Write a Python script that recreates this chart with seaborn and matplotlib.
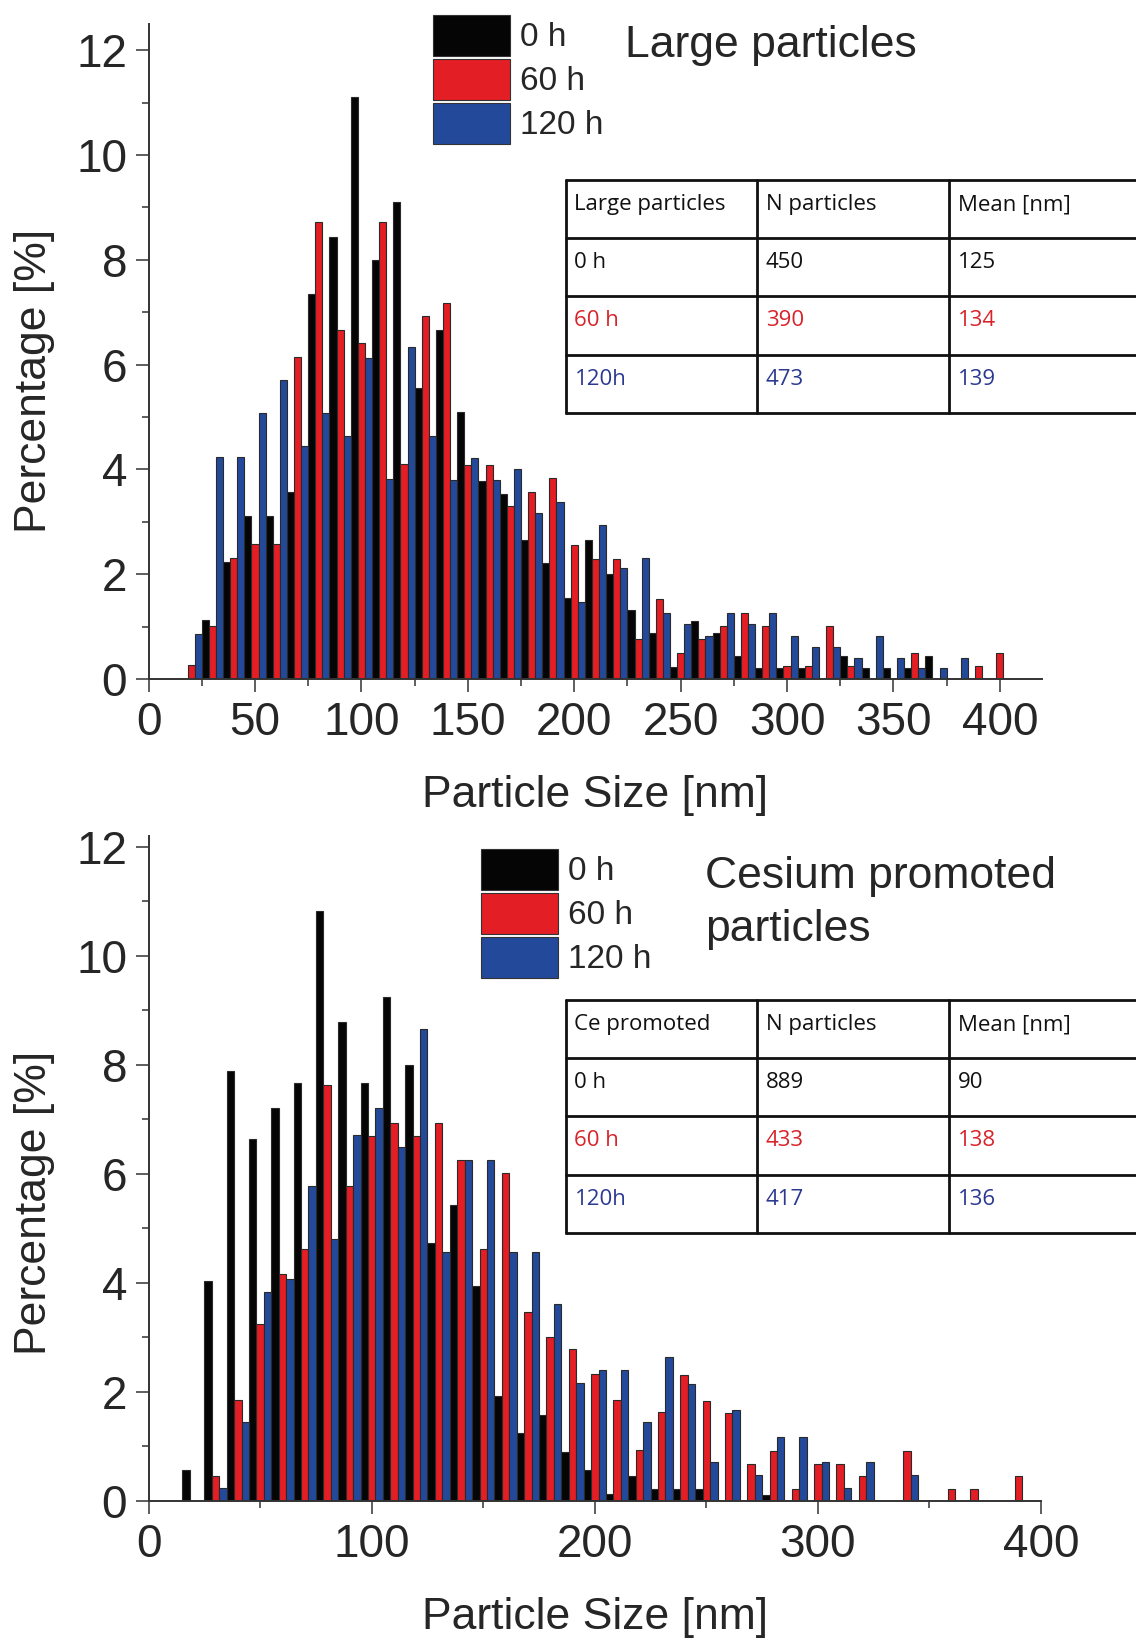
import matplotlib
matplotlib.use("Agg")
import matplotlib.pyplot as plt
import numpy as np
import pandas as pd
import seaborn as sns
from matplotlib.patches import Patch
from matplotlib.lines import Line2D
from matplotlib.ticker import MultipleLocator

# Histogram bin centres [nm]
bin_centres = list(range(20, 410, 10))
times = ["0 h", "60 h", "120 h"]
colors = ["#050505", "#e31e24", "#23499a"]
text_colors = ["#111111", "#d7242a", "#2b3990"]

# Large particles: share of particles per 10 nm bin [%]
large_0h = [0.00, 1.12, 2.23, 3.11, 3.11, 3.56, 7.34, 8.44, 11.11, 8.00,
            9.11, 5.56, 6.66, 5.09, 3.77, 3.54, 2.65, 2.21, 1.54, 2.65,
            2.00, 1.32, 0.88, 0.22, 1.11, 0.88, 0.43, 0.21, 0.21, 0.21,
            0.00, 0.43, 0.21, 0.21, 0.21, 0.43, 0.00, 0.00, 0.00]
large_60h = [0.26, 1.02, 2.30, 2.57, 2.57, 6.15, 8.72, 6.66, 6.42, 8.72,
             4.10, 6.92, 7.18, 4.08, 4.08, 3.31, 3.57, 3.83, 2.55, 2.29,
             2.29, 0.76, 1.52, 0.50, 0.76, 1.02, 1.26, 1.02, 0.25, 0.25,
             1.01, 0.25, 0.00, 0.00, 0.50, 0.00, 0.00, 0.25, 0.50]
large_120h = [0.85, 4.23, 4.23, 5.07, 5.70, 4.44, 5.07, 4.64, 6.13, 3.81,
              6.34, 4.64, 3.79, 4.21, 3.79, 4.00, 3.16, 3.37, 1.47, 2.94,
              2.11, 2.30, 1.26, 1.05, 0.83, 1.26, 1.05, 1.26, 0.83, 0.62,
              0.62, 0.41, 0.83, 0.41, 0.21, 0.21, 0.41, 0.00, 0.00]

# Cesium promoted particles [%]
cs_0h = [0.57, 4.04, 7.89, 6.64, 7.21, 7.66, 10.82, 8.79, 7.66, 9.24,
         8.00, 4.73, 5.42, 3.94, 1.92, 1.25, 1.58, 0.90, 0.56, 0.12,
         0.46, 0.22, 0.22, 0.22, 0.00, 0.00, 0.11, 0.00, 0.00, 0.00,
         0.00, 0.00, 0.00, 0.00, 0.00, 0.00, 0.00, 0.00, 0.00]
cs_60h = [0.00, 0.46, 1.86, 3.24, 4.16, 4.63, 7.63, 5.78, 6.70, 6.93,
          6.70, 6.93, 6.25, 4.63, 6.02, 3.47, 3.01, 2.78, 2.32, 1.86,
          0.93, 1.63, 2.31, 1.84, 1.61, 0.68, 0.92, 0.22, 0.68, 0.68,
          0.46, 0.00, 0.92, 0.00, 0.22, 0.22, 0.00, 0.46, 0.00]
cs_120h = [0.00, 0.23, 1.45, 3.84, 4.08, 5.77, 4.80, 6.72, 7.20, 6.49,
           8.65, 4.56, 6.25, 6.25, 4.56, 4.56, 3.61, 2.17, 2.41, 2.41,
           1.44, 2.64, 2.15, 0.71, 1.67, 0.47, 1.18, 1.18, 0.71, 0.23,
           0.71, 0.00, 0.47, 0.00, 0.00, 0.00, 0.00, 0.00, 0.00]

# Summary tables
large_header = ["Large particles", "N particles", "Mean [nm]"]
large_rows = [["0 h", "450", "125"], ["60 h", "390", "134"], ["120h", "473", "139"]]
cs_header = ["Ce promoted", "N particles", "Mean [nm]"]
cs_rows = [["0 h", "889", "90"], ["60 h", "433", "138"], ["120h", "417", "136"]]

sns.set_theme(style="ticks")
plt.rcParams["font.family"] = ["Liberation Sans", "DejaVu Sans"]

W, H = 1136, 1639
fig = plt.figure(figsize=(W / 100, H / 100), dpi=100)


def add_px_axes(left, right, bottom, top):
    return fig.add_axes([left / W, 1 - bottom / H, (right - left) / W, (bottom - top) / H])


def long_frame(series):
    parts = []
    for t, vals in zip(times, series):
        parts.append(pd.DataFrame({"size": bin_centres, "pct": vals, "time": t}))
    df = pd.concat(parts, ignore_index=True)
    return df[df["pct"] > 0]


def draw_hist(ax, series, xmax, ymax, xmajor, xminor):
    df = long_frame(series)
    sns.barplot(data=df, x="size", y="pct", hue="time", hue_order=times,
                palette=colors, native_scale=True, width=1.0, dodge=True,
                errorbar=None, saturation=1, edgecolor="#2a2a2a",
                linewidth=0.8, legend=False, ax=ax)
    ax.set_xlim(0, xmax)
    ax.set_ylim(0, ymax)
    ax.xaxis.set_major_locator(MultipleLocator(xmajor))
    ax.xaxis.set_minor_locator(MultipleLocator(xminor))
    ax.yaxis.set_major_locator(MultipleLocator(2))
    ax.yaxis.set_minor_locator(MultipleLocator(1))
    ax.set_xticks(np.arange(0, 401, xmajor))
    for s in ["top", "right"]:
        ax.spines[s].set_visible(False)
    for s in ["left", "bottom"]:
        ax.spines[s].set_linewidth(1.4)
        ax.spines[s].set_color("#333333")
    ax.tick_params(which="major", direction="out", length=9.5, width=1.1,
                   color="#333333", labelsize=33, pad=6)
    ax.tick_params(which="minor", direction="out", length=5, width=1.1,
                   color="#333333")
    ax.set_xlabel("Particle Size [nm]", fontsize=32, labelpad=22)
    ax.set_ylabel("Percentage [%]", fontsize=32)


def draw_table(x0, y0, header, rows):
    col_x = [x0, x0 + 191.5, x0 + 383.5, x0 + 575.5]
    row_h = 58.2
    row_y = [y0 + i * row_h for i in range(5)]
    for yy in row_y:
        fig.add_artist(Line2D([col_x[0] / W, col_x[-1] / W], [1 - yy / H, 1 - yy / H],
                              transform=fig.transFigure, color="#111111", lw=2.0))
    for xx in col_x:
        fig.add_artist(Line2D([xx / W, xx / W], [1 - row_y[0] / H, 1 - row_y[-1] / H],
                              transform=fig.transFigure, color="#111111", lw=2.0))
    all_rows = [header] + rows
    all_colors = [text_colors[0]] + text_colors
    for r, (cells, c) in enumerate(zip(all_rows, all_colors)):
        for k, txt in enumerate(cells):
            fig.text((col_x[k] + 9) / W, 1 - (row_y[r] + 30) / H, txt,
                     family=["Open Sans", "DejaVu Sans"], fontsize=16,
                     color=c, ha="left", va="baseline")


def draw_legend(x, y):
    handles = [Patch(facecolor=c, edgecolor="#333333", linewidth=0.8) for c in colors]
    fig.legend(handles, times, loc="upper left", bbox_to_anchor=(x / W, 1 - y / H),
               frameon=False, fontsize=24, handlelength=2.3, handleheight=1.5,
               labelspacing=0.1, handletextpad=0.3, borderpad=0, borderaxespad=0)


# Upper panel: large particles
ax1 = add_px_axes(148.6, 1042.4, 679, 24)
draw_hist(ax1, [large_0h, large_60h, large_120h], 420, 12.5, 50, 25)
ax1.yaxis.set_label_coords(-0.105, 0.455)
draw_legend(433, 15)
fig.text(625 / W, 1 - 45 / H, "Large particles", fontsize=32, ha="left", va="center")
draw_table(565.5, 180, large_header, large_rows)

# Lower panel: cesium promoted particles
ax2 = add_px_axes(148.6, 1041, 1501, 836)
draw_hist(ax2, [cs_0h, cs_60h, cs_120h], 400, 12.195, 100, 50)
ax2.yaxis.set_label_coords(-0.105, 0.448)
draw_legend(481, 849)
fig.text(705 / W, 1 - 903 / H, "Cesium promoted\nparticles", fontsize=32,
         ha="left", va="center", linespacing=1.35)
draw_table(565.5, 1000, cs_header, cs_rows)

fig.savefig("out.png", dpi=100)
